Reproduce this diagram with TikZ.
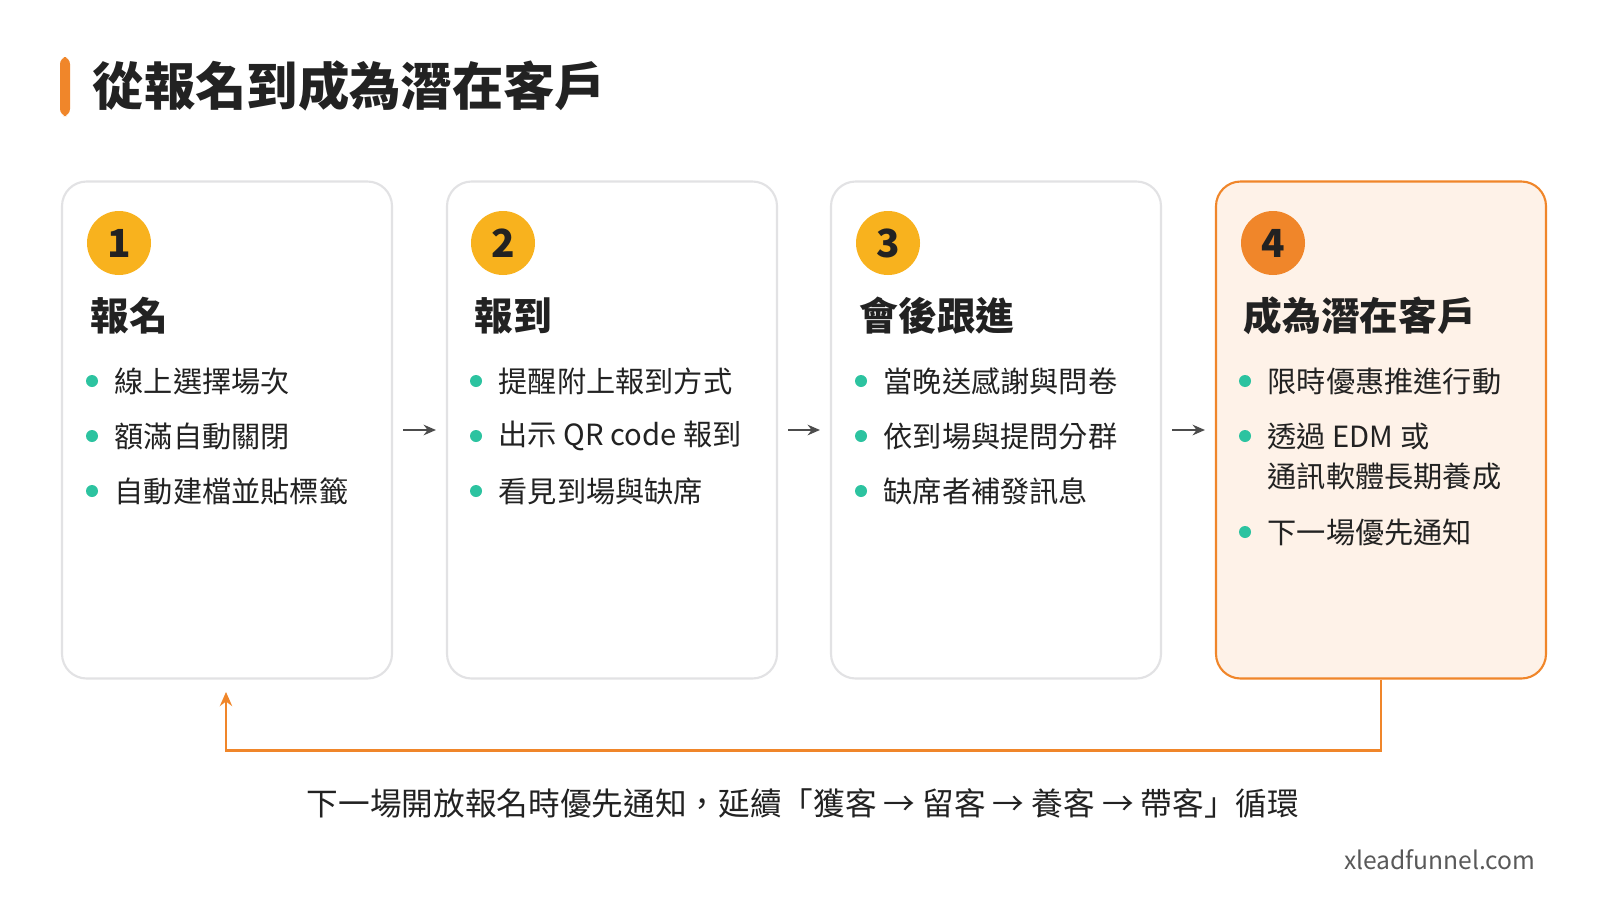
\documentclass[tikz,border=0pt]{standalone}
\usepackage{fontspec}
\setmainfont{Noto Sans CJK TC}
\usepackage{xcolor}
\definecolor{accent}{HTML}{F0862A}
\definecolor{gold}{HTML}{F8B21E}
\definecolor{teal}{HTML}{2CC3A0}
\definecolor{cream}{HTML}{FEF2E8}
\definecolor{edge}{HTML}{E2E2E4}
\definecolor{ink}{HTML}{222222}
\usetikzlibrary{positioning,arrows.meta}
\newlength{\unit}\setlength{\unit}{0.01cm}
\tikzset{
  card/.style={draw=edge, line width=0.6pt, rounded corners=7pt, fill=white},
  num/.style={circle, fill=gold, minimum size=64\unit, inner sep=0pt, font=\fontsize{11}{11}\selectfont\bfseries, text=ink},
  head/.style={anchor=west, font=\fontsize{11}{12}\selectfont\bfseries, text=ink, inner sep=0pt},
  item/.style={anchor=west, font=\fontsize{8.3}{11.5}\selectfont, text=ink, inner sep=0pt, align=left},
  dot/.style={circle, fill=teal, minimum size=12\unit, inner sep=0pt},
  flow/.style={-{Stealth[length=3.5pt, width=3pt]}, draw=black!70, line width=0.6pt}
}
\begin{document}
\begin{tikzpicture}[x=0.01cm, y=-0.01cm]
  \useasboundingbox (0,0) rectangle (1600,900);
  \fill[white] (0,0) rectangle (1600,900);

  % title
  \fill[accent, rounded corners=2pt] (60,57) rectangle (70,116);
  \node[anchor=west, inner sep=0pt, font=\fontsize{14.6}{15}\selectfont\bfseries, text=ink] (title) at (92,86) {從報名到成為潛在客戶};

  % cards
  \node[card, minimum width=330\unit, minimum height=497\unit] (c1) at (227,430) {};
  \node[card, minimum width=330\unit, minimum height=497\unit] (c2) at (612,430) {};
  \node[card, minimum width=330\unit, minimum height=497\unit] (c3) at (996,430) {};
  \node[card, draw=accent, fill=cream, minimum width=330\unit, minimum height=497\unit] (c4) at (1381,430) {};

  \foreach \i/\x in {1/119, 2/503, 3/888} {
    \node[num] (n\i) at (\x,243) {\i};
  }
  \node[num, fill=accent] (n4) at (1273,243) {4};

  \node[head] (h1) at (90,316) {報名};
  \node[head] (h2) at (474,316) {報到};
  \node[head] (h3) at (859,316) {會後跟進};
  \node[head] (h4) at (1243,316) {成為潛在客戶};

  % bullets
  \foreach \x in {92, 476, 861, 1245} {
    \node[dot] at (\x,381) {};
    \node[dot] at (\x,436) {};
  }
  \foreach \x in {92, 476, 861} { \node[dot] at (\x,491) {}; }
  \node[dot] at (1245,532) {};

  \node[item] (a1) at (114,381) {線上選擇場次};
  \node[item] (a2) at (114,436) {額滿自動關閉};
  \node[item] (a3) at (114,491) {自動建檔並貼標籤};
  \node[item] (b1) at (498,381) {提醒附上報到方式};
  \node[item] (b2) at (498,436) {出示 QR code 報到};
  \node[item] (b3) at (498,491) {看見到場與缺席};
  \node[item] (d1) at (883,381) {當晚送感謝與問卷};
  \node[item] (d2) at (883,436) {依到場與提問分群};
  \node[item] (d3) at (883,491) {缺席者補發訊息};
  \node[item] (e1) at (1267,381) {限時優惠推進行動};
  \node[item, anchor=north west] (e2) at (1267,422) {透過 EDM 或\\通訊軟體長期養成};
  \node[item] (e3) at (1267,532) {下一場優先通知};

  % arrows
  \draw[flow] ([xshift=10\unit]c1.east) -- ([xshift=-10\unit]c2.west);
  \draw[flow] ([xshift=10\unit]c2.east) -- ([xshift=-10\unit]c3.west);
  \draw[flow] ([xshift=10\unit]c3.east) -- ([xshift=-10\unit]c4.west);

  % loop back
  \coordinate (back) at (226,692);
  \draw[accent, line width=0.8pt, -{Stealth[length=4pt, width=3.5pt]}] (c4.south) -- ++(0,71) -| (back);

  \node[font=\fontsize{9}{10}\selectfont, text=ink] (note) at (803,803) {下一場開放報名時優先通知，延續「獲客 → 留客 → 養客 → 帶客」循環};
  \node[anchor=east, font=\fontsize{7}{8}\selectfont, text=black!65] (site) at (1548,860) {xleadfunnel.com};
\end{tikzpicture}
\end{document}
